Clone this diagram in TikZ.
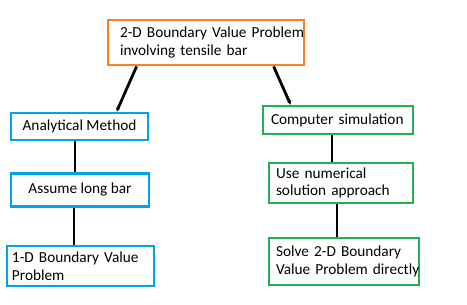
\documentclass[tikz,border=0pt]{standalone}
\usepackage{fontspec}
\setmainfont{Carlito}
\usepackage{tikz}
\usetikzlibrary{positioning,arrows.meta}
\usepackage{xcolor}
\definecolor{boxorange}{HTML}{FF7F27}
\definecolor{boxblue}{HTML}{00A2E8}
\definecolor{boxgreen}{HTML}{22B14C}

\begin{document}
\begin{tikzpicture}[x=1pt,y=-1pt,>={Stealth[length=4pt,width=4pt]},
  box/.style={draw,line width=2.8pt,inner sep=0pt,fill=white,font=\fontsize{15.3}{17.5}\selectfont},
  link/.style={line width=2.8pt,black}]
\useasboundingbox (0,0) rectangle (467,305);
% top problem
\node[box,draw=boxorange,minimum width=196pt,minimum height=45pt,text width=172pt,align=left] (top) at (206,42.5) {\mbox{2-D Boundary Value Problem}\\\mbox{involving tensile bar}};
% left branch
\node[box,draw=boxblue,minimum width=137pt,minimum height=27pt,align=center] (ana) at (79.5,126.5) {Analytical Method};
\node[box,draw=boxblue,minimum width=138pt,minimum height=33pt,align=center] (long) at (80,190) {Assume long bar};
\node[box,draw=boxblue,minimum width=147pt,minimum height=40pt,text width=137pt,align=left] (oned) at (80.5,266) {\mbox{1-D Boundary Value}\\Problem};
% right branch
\node[box,draw=boxgreen,minimum width=150pt,minimum height=28pt,text width=134pt,align=left] (comp) at (338,120) {\mbox{Computer simulation}};
\node[box,draw=boxgreen,minimum width=144pt,minimum height=40pt,text width=130pt,align=left] (numer) at (341,183) {\mbox{Use numerical}\\\mbox{solution approach}};
\node[box,draw=boxgreen,minimum width=150pt,minimum height=47pt,text width=136pt,align=left] (solve) at (344,261.5) {\mbox{Solve 2-D Boundary}\\\mbox{Value Problem directly}};
% connectors
\draw[link,->] ([xshift=30pt]top.south west) -- ([xshift=107pt]ana.north west);
\draw[link,->] ([xshift=167pt]top.south west) -- ([xshift=29pt]comp.north west);
\draw[link] ([xshift=-4.5pt]ana.south) -- ([xshift=-4.5pt]ana.south |- long.north);
\draw[link] ([xshift=-6pt]long.south) -- ([xshift=-6pt]long.south |- oned.north);
\draw[link] ([xshift=-6pt]comp.south) -- ([xshift=-6pt]comp.south |- numer.north);
\draw[link] ([xshift=-4pt]numer.south) -- ([xshift=-4pt]numer.south |- solve.north);
\end{tikzpicture}
\end{document}
